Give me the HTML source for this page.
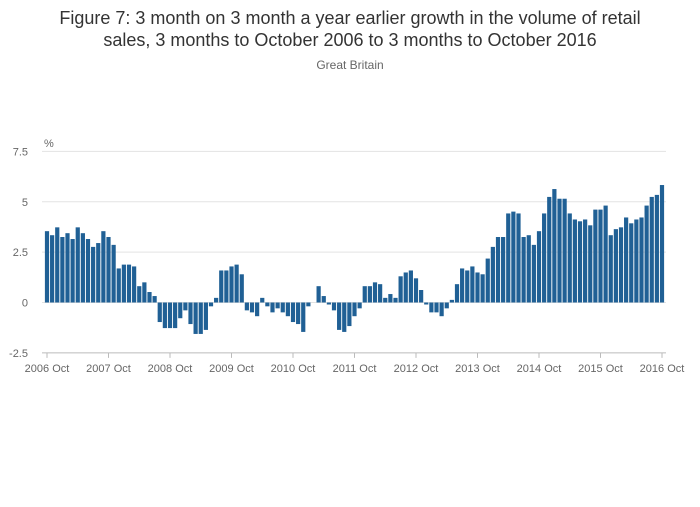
<!DOCTYPE html>
<html><head><meta charset="utf-8"><style>
body{margin:0;background:#fff;font-family:"Liberation Sans",sans-serif}
svg text{font-family:"Liberation Sans",sans-serif}
</style></head><body>
<svg id="chart" width="700" height="502" xmlns="http://www.w3.org/2000/svg">
<text x="350" y="24" text-anchor="middle" font-size="18" fill="#333">Figure 7: 3 month on 3 month a year earlier growth in the volume of retail</text>
<text x="350" y="46" text-anchor="middle" font-size="18" fill="#333">sales, 3 months to October 2006 to 3 months to October 2016</text>
<text x="350" y="69" text-anchor="middle" font-size="12" fill="#666">Great Britain</text>
<text x="44" y="147" font-size="11" fill="#666">%</text>
<g id="grid"></g><g id="bars"></g><g id="xaxis"></g>
</svg>
<script>
const yTicks=[7.5,5,2.5,0,-2.5];
const yTickLabels=["7.5","5","2.5","0","-2.5"];
const xTickLabels=["2006 Oct","2007 Oct","2008 Oct","2009 Oct","2010 Oct","2011 Oct","2012 Oct","2013 Oct","2014 Oct","2015 Oct","2016 Oct"];
const growth=[3.54,3.34,3.73,3.25,3.44,3.15,3.73,3.44,3.15,2.76,2.95,3.54,3.25,2.86,1.69,1.88,1.88,1.79,0.81,1.0,0.52,0.32,
-0.97,-1.27,-1.27,-1.27,-0.78,-0.39,-1.07,-1.56,-1.56,-1.36,-0.19,0.23,1.59,1.59,1.79,1.88,1.40,-0.39,
-0.49,-0.68,0.23,-0.19,-0.49,-0.29,-0.49,-0.68,-0.97,-1.07,-1.46,-0.19,0,0.81,0.32,-0.1,-0.39,-1.36,-1.46,-1.17,-0.68,-0.29,
0.81,0.81,1.0,0.91,0.23,0.42,0.23,1.30,1.49,1.59,1.20,0.62,-0.1,-0.49,-0.49,-0.68,-0.29,0.13,0.91,1.69,1.59,
1.79,1.49,1.40,2.18,2.76,3.25,3.25,4.42,4.51,4.42,3.25,3.34,2.86,3.54,4.42,5.24,5.63,5.15,5.15,4.42,4.12,4.03,4.12,3.83,
4.61,4.61,4.81,3.34,3.64,3.73,4.22,3.93,4.12,4.22,4.81,5.24,5.34,5.83];
const NS="http://www.w3.org/2000/svg";
const x0=47,x1=662,y0=302.5,pxPerUnit=20.15;
function xs(i){return x0+(x1-x0)*i/(growth.length-1);}
function ys(v){return y0-v*pxPerUnit;}
function mk(tag,attrs,parent){const e=document.createElementNS(NS,tag);for(const k in attrs)e.setAttribute(k,attrs[k]);document.getElementById(parent).appendChild(e);return e;}
yTicks.forEach((t,i)=>{
 const l=mk('line',{x1:42,x2:666,y1:ys(t),y2:ys(t),stroke:i===4?'#bbb':'#e3e3e3','stroke-width':1},'grid');
 
 
 const tx=mk('text',{x:28,y:ys(t)+4,'text-anchor':'end','font-size':11,fill:'#666'},'grid');
 tx.textContent=yTickLabels[i];
 
 
});
growth.forEach((v,i)=>{
 const top=Math.min(ys(v),ys(0)),h=Math.abs(ys(v)-ys(0));
 const r=mk('rect',{x:xs(i)-2.1,y:top,width:4.2,height:h,fill:'#206095'},'bars');
 
 
});
xTickLabels.forEach((lab,k)=>{
 const x=xs(k*12);
 const t=mk('line',{x1:x,x2:x,y1:ys(-2.5),y2:ys(-2.5)+5,stroke:'#bbb'},'xaxis');
 
 
 const tx=mk('text',{x:x,y:372,'text-anchor':'middle','font-size':11,fill:'#666'},'xaxis');
 tx.textContent=lab;
 
 
});
</script>
</body></html>
